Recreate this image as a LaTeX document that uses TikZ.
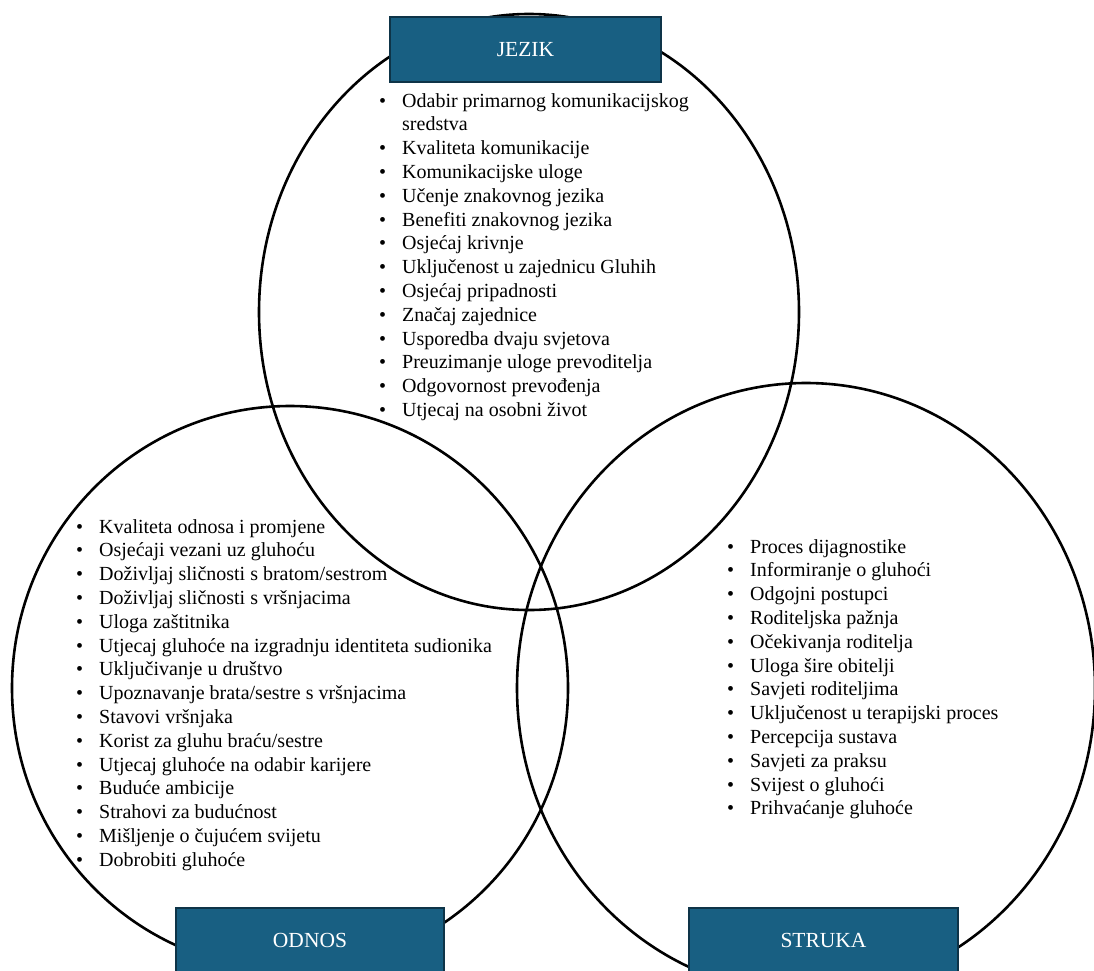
\documentclass[tikz,border=0pt]{standalone}
\usepackage{fontspec}
\setmainfont{Liberation Serif}
\usepackage{array}
\definecolor{boxfill}{RGB}{24,95,130}
\definecolor{boxedge}{RGB}{14,52,72}
\newcommand\bul{\makebox[23pt][l]{•}}
\begin{document}
\begin{tikzpicture}[x=1pt,y=-1pt,
  ring/.style={draw=black,line width=2.6pt},
  catbox/.style={draw=boxedge,fill=boxfill,line width=1.5pt,text=white,
    minimum width=271pt,minimum height=65pt,inner sep=0pt,
    font=\fontsize{21.5}{24}\selectfont},
  itemlist/.style={inner sep=0pt,anchor=base west,
    font=\fontsize{20}{23.8}\selectfont}]
\useasboundingbox (0,0) rectangle (1094,970);
% circles
\draw[ring] (529,312) ellipse [x radius=270pt, y radius=298pt];
\draw[ring] (290,688) ellipse [x radius=278pt, y radius=282pt];
\draw[ring] (806,688) ellipse [x radius=289pt, y radius=305pt];
% lists
\node[itemlist] (jezikList) at (379,107) {\begin{tabular}[t]{@{}l@{}l@{}}
\bul & Odabir primarnog komunikacijskog\\
 & sredstva\\
\bul & Kvaliteta komunikacije\\
\bul & Komunikacijske uloge\\
\bul & Učenje znakovnog jezika\\
\bul & Benefiti znakovnog jezika\\
\bul & Osjećaj krivnje\\
\bul & Uključenost u zajednicu Gluhih\\
\bul & Osjećaj pripadnosti\\
\bul & Značaj zajednice\\
\bul & Usporedba dvaju svjetova\\
\bul & Preuzimanje uloge prevoditelja\\
\bul & Odgovornost prevođenja\\
\bul & Utjecaj na osobni život
\end{tabular}};
\node[itemlist] (odnosList) at (76,533) {\begin{tabular}[t]{@{}l@{}l@{}}
\bul & Kvaliteta odnosa i promjene\\
\bul & Osjećaji vezani uz gluhoću\\
\bul & Doživljaj sličnosti s bratom/sestrom\\
\bul & Doživljaj sličnosti s vršnjacima\\
\bul & Uloga zaštitnika\\
\bul & Utjecaj gluhoće na izgradnju identiteta sudionika\\
\bul & Uključivanje u društvo\\
\bul & Upoznavanje brata/sestre s vršnjacima\\
\bul & Stavovi vršnjaka\\
\bul & Korist za gluhu braću/sestre\\
\bul & Utjecaj gluhoće na odabir karijere\\
\bul & Buduće ambicije\\
\bul & Strahovi za budućnost\\
\bul & Mišljenje o čujućem svijetu\\
\bul & Dobrobiti gluhoće
\end{tabular}};
\node[itemlist] (strukaList) at (727,553) {\begin{tabular}[t]{@{}l@{}l@{}}
\bul & Proces dijagnostike\\
\bul & Informiranje o gluhoći\\
\bul & Odgojni postupci\\
\bul & Roditeljska pažnja\\
\bul & Očekivanja roditelja\\
\bul & Uloga šire obitelji\\
\bul & Savjeti roditeljima\\
\bul & Uključenost u terapijski proces\\
\bul & Percepcija sustava\\
\bul & Savjeti za praksu\\
\bul & Svijest o gluhoći\\
\bul & Prihvaćanje gluhoće
\end{tabular}};
% title boxes
\node[catbox] (jezik) at (525.5,49.5) {JEZIK};
\node[catbox,minimum width=268pt] (odnos) at (310,940.5) {ODNOS};
\node[catbox,minimum width=269pt] (struka) at (823.5,940.5) {STRUKA};
\end{tikzpicture}
\end{document}
